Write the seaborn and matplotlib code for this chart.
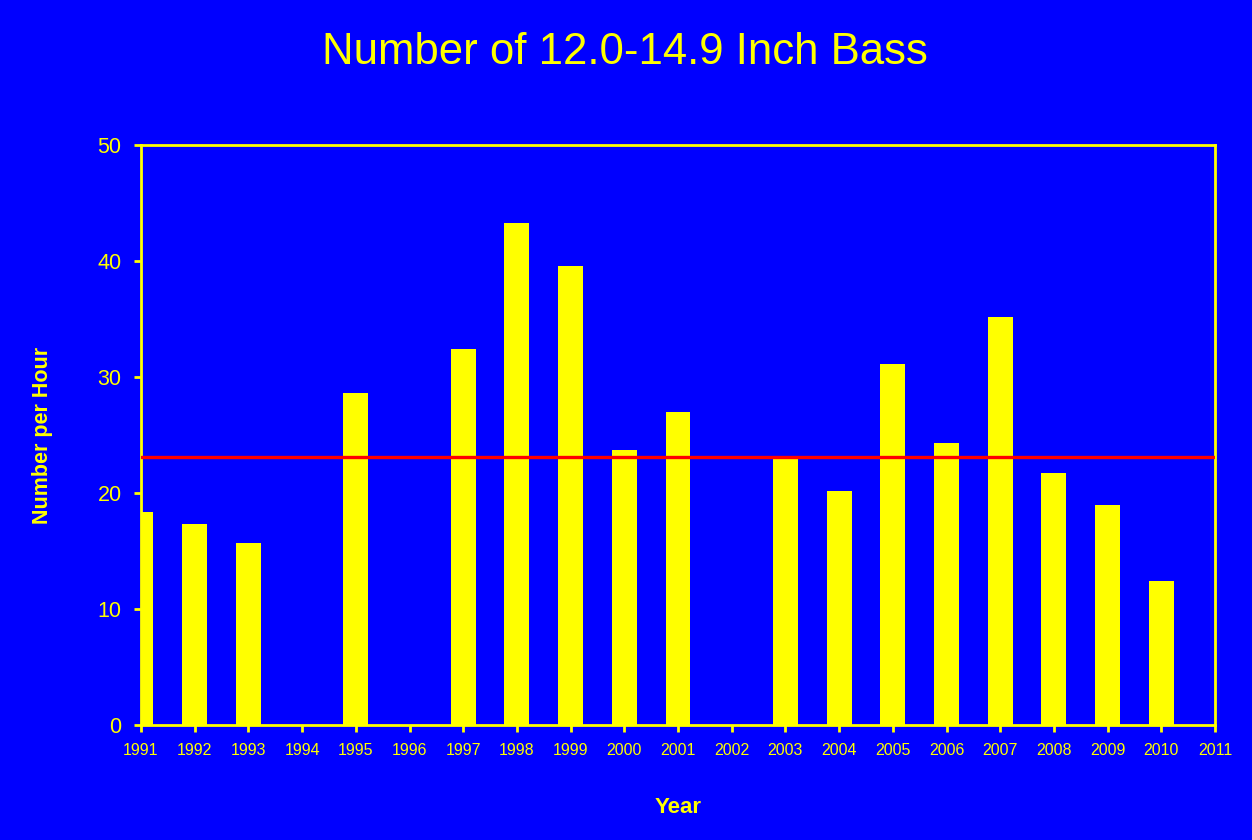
import matplotlib
matplotlib.use("Agg")
import matplotlib.pyplot as plt
import seaborn as sns
import pandas as pd

years = list(range(1991, 2011))
values = [18.4, 17.3, 15.7, 0, 28.6, 0, 32.4, 43.3, 39.6, 23.7,
          27.0, 0, 23.0, 20.2, 31.1, 24.3, 35.2, 21.7, 19.0, 12.4]
mean_line = 23.1
x_ticks = list(range(1991, 2012))
y_ticks = [0, 10, 20, 30, 40, 50]

BLUE = "#0000FF"
YELLOW = "#FFFF00"
RED = "#FF0000"

sns.set_style("white")
plt.rcParams["font.family"] = ["Liberation Sans", "DejaVu Sans"]

df = pd.DataFrame({"Year": years, "Value": values})

fig = plt.figure(figsize=(12.52, 8.4), dpi=100, facecolor=BLUE)
ax = fig.add_axes([141/1252, 1-725/840, (1215-141)/1252, (725-145)/840])
ax.set_facecolor(BLUE)

sns.barplot(data=df, x="Year", y="Value", native_scale=True, color=YELLOW,
            saturation=1, width=0.465, ax=ax, errorbar=None, edgecolor="none")
ax.axhline(mean_line, color=RED, lw=2.4, zorder=5)

ax.set_xlim(1991, 2011)
ax.set_ylim(0, 50)
ax.set_xticks(x_ticks)
ax.set_xticklabels([str(t) for t in x_ticks])
ax.set_yticks(y_ticks)

for s in ax.spines.values():
    s.set_visible(True)
    s.set_color(YELLOW)
    s.set_linewidth(2)

ax.tick_params(axis="x", colors=YELLOW, labelsize=11.5, length=5, width=2, direction="out", pad=8, bottom=True)
ax.tick_params(axis="y", colors=YELLOW, labelsize=15.5, length=5, width=2, direction="out", pad=9, left=True)

ax.set_xlabel("Year", color=YELLOW, fontsize=16, fontweight="bold", labelpad=28)
ax.set_ylabel("Number per Hour", color=YELLOW, fontsize=15.5, fontweight="bold", labelpad=32)

fig.text(625/1252, 1-52/840, "Number of 12.0-14.9 Inch Bass", color=YELLOW,
         fontsize=31.5, ha="center", va="center")

fig.savefig("out.png", dpi=100, facecolor=BLUE)
